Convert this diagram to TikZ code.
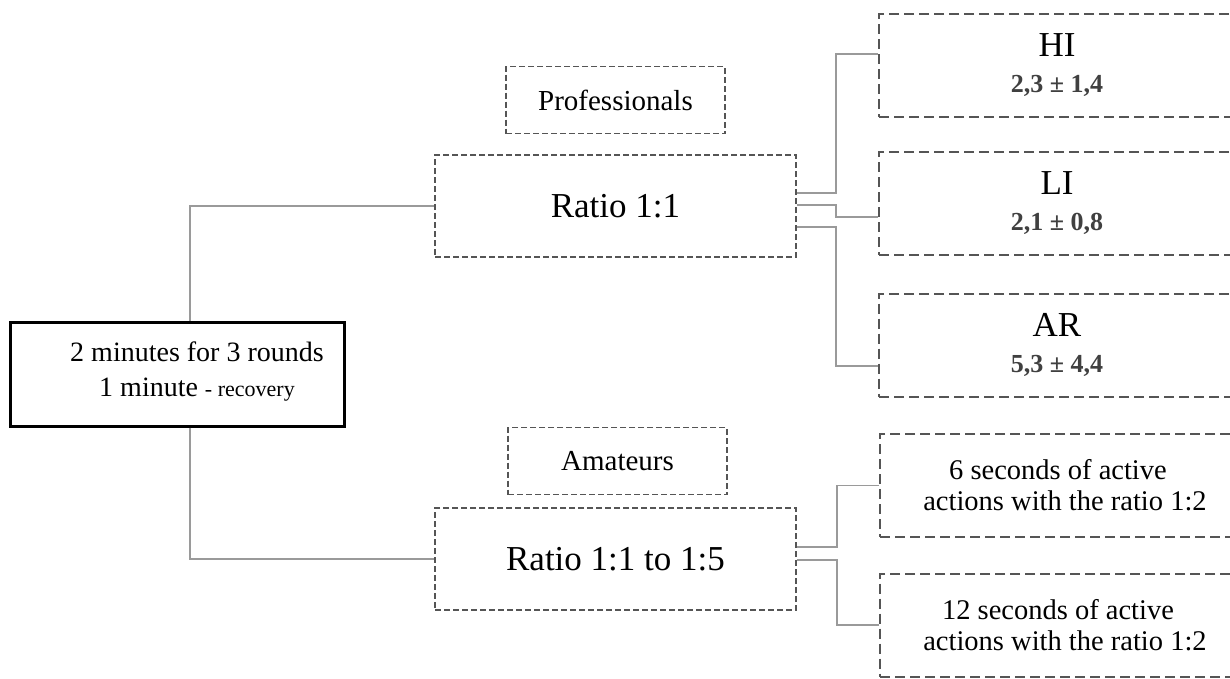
\documentclass[tikz,border=0pt]{standalone}
\usepackage{fontspec}
\setmainfont{Liberation Serif}
\definecolor{edgegray}{HTML}{555555}
\definecolor{linkgray}{HTML}{9A9A9A}
\definecolor{valgray}{HTML}{404040}
\newcommand{\rvalue}[1]{{\fontsize{26}{36}\selectfont\bfseries\color{valgray}#1}}
\begin{document}
\begin{tikzpicture}[x=1pt,y=-1pt,
  mainbox/.style={draw=black, line width=3pt, minimum width=334pt, minimum height=104pt, inner sep=0pt},
  groupbox/.style={draw=edgegray, line width=1.8pt, dash pattern=on 6pt off 3pt, inner sep=0pt},
  ratiobox/.style={groupbox, minimum width=361pt, minimum height=102pt, font=\fontsize{35}{38}\selectfont},
  tagbox/.style={groupbox, minimum width=219pt, minimum height=67pt, font=\fontsize{29}{32}\selectfont},
  resultbox/.style={draw=edgegray, line width=2pt, dash pattern=on 10pt off 5pt, minimum width=356pt, minimum height=103pt, inner sep=0pt, align=center, font=\fontsize{35}{36}\selectfont},
  actionbox/.style={resultbox, font=\fontsize{28.5}{31}\selectfont},
  link/.style={draw=linkgray, line width=1.8pt}]
\clip (0,0) rectangle (1230,678);
\fill[white] (0,0) rectangle (1230,678);

% starting condition
\node[mainbox] (start) at (177,374) {};
\node[align=center, font=\fontsize{28}{35}\selectfont] (starttext) at (197,372)
  {2 minutes for 3 rounds\\1 minute {\fontsize{22}{35}\selectfont - recovery}};

% groups
\node[tagbox] (pro) at (615.5,100) {Professionals};
\node[ratiobox] (ratioA) at (615.5,206) {Ratio 1:1};
\node[tagbox] (ama) at (617.5,461) {Amateurs};
\node[ratiobox] (ratioB) at (615.5,559) {Ratio 1:1 to 1:5};

% results for professionals
\node[resultbox] (hi) at (1057,65.5) {HI\\\rvalue{2,3 ± 1,4}};
\node[resultbox] (li) at (1057,203.5) {LI\\\rvalue{2,1 ± 0,8}};
\node[resultbox] (ar) at (1057,345) {AR\\\rvalue{5,3 ± 4,4}};

% results for amateurs
\node[actionbox] (six) at (1058,485.5) {6 seconds of active\\ \hspace*{14pt}actions with the ratio 1:2};
\node[actionbox] (twelve) at (1058,625) {12 seconds of active\\ \hspace*{14pt}actions with the ratio 1:2};

% elbow columns
\coordinate (trunk) at (190,374);
\coordinate (forkA) at (836,206);
\coordinate (forkB) at (837,559);

% connectors
\draw[link] (trunk |- start.north) |- (ratioA.west);
\draw[link] (trunk |- start.south) |- (ratioB.west);

\draw[link] ([yshift=13pt]ratioA.east) -- ([yshift=13pt]ratioA.east -| forkA) |- ([yshift=11.5pt]hi.west);
\draw[link] ([yshift=1pt]ratioA.east) -- ([yshift=1pt]ratioA.east -| forkA) |- ([yshift=-13.5pt]li.west);
\draw[link] ([yshift=-21pt]ratioA.east) -- ([yshift=-21pt]ratioA.east -| forkA) |- ([yshift=-21pt]ar.west);

\draw[link] ([yshift=12pt]ratioB.east) -- ([yshift=12pt]ratioB.east -| forkB) |- (six.west);
\draw[link] ([yshift=-1pt]ratioB.east) -- ([yshift=-1pt]ratioB.east -| forkB) |- (twelve.west);
\end{tikzpicture}
\end{document}
